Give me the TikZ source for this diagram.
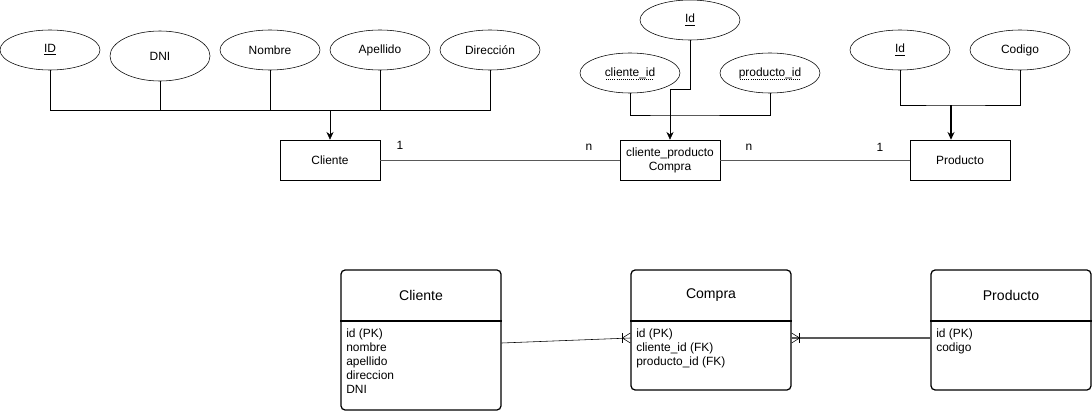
\documentclass[tikz,border=0pt]{standalone}
\usepackage{fontspec}
\setmainfont{Liberation Sans}
\usetikzlibrary{arrows,arrows.meta,shapes.geometric}

\tikzset{
	atr/.style={draw, ellipse, minimum width=2.5cm, minimum height=1cm, inner sep=0pt},
	ent/.style={draw, minimum width=2.5cm, minimum height=1cm, align=center},
	rel/.style={color=black!65},
	dotline/.style={densely dotted, line width=0.5pt},
	tbl/.style={draw, rounded corners=3pt, line width=0.9pt, minimum width=4cm},
	rows/.style={anchor=north west, align=left, inner sep=0pt}
}

\begin{document}
\begin{tikzpicture}[x=0.025cm, y=-0.025cm, >={Stealth[length=5.5pt,width=5pt]}, every node/.style={font=\fontsize{8.5}{9.9}\selectfont}]
			\useasboundingbox (0,0) rectangle (1092,414);

			\node[atr] (id) at (50,50) {\underline{ID}};
			\node[atr, minimum height=1.25cm] (dni) at (160,56) {DNI};
			\node[atr] (nom) at (270,50) {Nombre};
			\node[atr] (ape) at (380,50) {Apellido};
			\node[atr] (dir) at (490,50) {Dirección};
			\coordinate (cb) at (330,110);
			\node[ent] (cli) at (330,160) {Cliente};

			\draw (id) |- (cb);
			\draw (dni) |- (cb);
			\draw (nom) |- (cb);
			\draw (ape) |- (cb);
			\draw (dir) |- (cb);
			\draw[->] (cb) -- (cli);

			\node[atr] (cid) at (690,20) {\underline{Id}};
			\node[atr] (ccl) at (630,73) {cliente\_id};
			\node[atr] (cpr) at (770,73) {producto\_id};
			\draw[dotline] (ccl.center) ++(-24,6) -- ++(48,0);
			\draw[dotline] (cpr.center) ++(-30,6) -- ++(60,0);
			\coordinate (mj) at (670,89);
			\coordinate (mb) at (670,115);
			\node[ent] (cp) at (670,160) {cliente\_producto\\Compra};

			\draw[->] (cid) |- (mj) -- (cp);
			\draw (ccl) |- (mb) -| (cpr);

			\node[atr] (pid) at (900,50) {\underline{Id}};
			\node[atr] (cod) at (1020,50) {Codigo};
			\coordinate (pj) at (951,105);
			\node[ent] (prod) at (960,160) {Producto};

			\draw (pid) |- (pj) -| (cod);
			\draw[->, line width=0.8pt] (pj) -- (pj |- prod.north);

			\draw[rel] (cli) -- (cp);
			\draw[rel] (cp) -- (prod);
			\node at (400,145) {1};
			\node at (589,147) {n};
			\node at (749,147) {n};
			\node at (880,147) {1};

			% tablas
			\node[tbl, minimum height=3.5cm] (tcli) at (421,340) {};
			\node[tbl, minimum height=3cm] (tcom) at (711,330) {};
			\node[tbl, minimum height=3cm] (tprod) at (1011,330) {};

			\foreach \t in {tcli, tcom, tprod}
			\draw[line width=0.9pt] (\t.west |- 0,321) -- (\t.east |- 0,321);

			\node[font=\fontsize{10}{12}\selectfont] at (421,295) {Cliente};
			\node[font=\fontsize{10}{12}\selectfont] at (711,295) {Compra};
			\node[font=\fontsize{10}{12}\selectfont] at (1011,295) {Producto};

			\node[rows] (rcli) at (346,329) {id (PK)\\nombre\\apellido\\direccion\\DNI};
			\node[rows] (rcom) at (636,329) {id (PK)\\cliente\_id (FK)\\producto\_id (FK)};
			\node[rows] (rprod) at (936,329) {id (PK)\\codigo};

			\coordinate (a1) at (tcli.east |- 0,343);
			\coordinate (b1) at (tcom.west |- 0,338);
			\coordinate (c1) at (tcom.east |- 0,338);
			\coordinate (d1) at (tprod.west |- 0,338);

			\draw (a1) -- (b1);
			\draw (b1) ++(-8,-5) -- ++(0,10);
			\draw (b1) ++(0,-5) -- ++(-8,5) -- ++(8,5);

			\draw[rel, line width=0.8pt] (c1) -- (d1);
			\draw (c1) ++(8,-5) -- ++(0,10);
			\draw (c1) ++(0,-5) -- ++(8,5) -- ++(-8,5);
		\end{tikzpicture}
\end{document}
